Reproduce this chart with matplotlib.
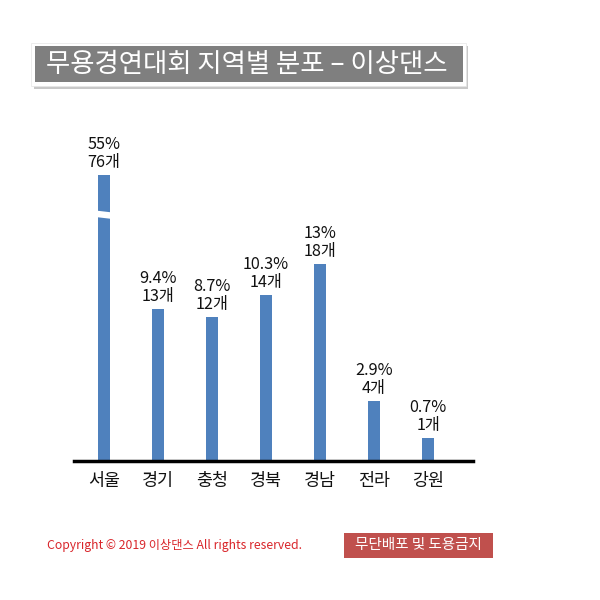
import matplotlib
matplotlib.use("Agg")
import matplotlib.pyplot as plt
from matplotlib.patches import Rectangle, Polygon

plt.rcParams['font.family'] = ['Noto Sans CJK KR', 'DejaVu Sans']

categories = ['서울', '경기', '충청', '경북', '경남', '전라', '강원']
counts = [76, 13, 12, 14, 18, 4, 1]
percents = ['55%', '9.4%', '8.7%', '10.3%', '13%', '2.9%', '0.7%']
# drawn bar lengths (the Seoul bar is broken)
bar_heights = [286, 152, 144, 166, 197, 60, 23]

title = '무용경연대회 지역별 분포 – 이상댄스'
copyright_text = 'Copyright © 2019 이상댄스 All rights reserved.'
notice = '무단배포 및 도용금지'

W = H = 600
fig = plt.figure(figsize=(6, 6), dpi=100)

def fx(px):
    return px / W

def fy(py):
    return 1 - py / H

# main axes: baseline at y=461 px, x 74..473 px
ax_l, ax_r, base_y = 74, 473, 461
ax_top = 461 - 300
ax = fig.add_axes([fx(ax_l), fy(base_y), fx(ax_r - ax_l), (base_y - ax_top) / H])
spacing = 54.0
x0 = -30 / spacing
ax.set_xlim(x0, x0 + (ax_r - ax_l) / spacing)
ax.set_ylim(0, 300)

xs = list(range(len(categories)))
bar_color = '#4f81bd'
ax.bar(xs, bar_heights, width=12 / spacing, color=bar_color, zorder=2)

# break mark on the first bar
bx = xs[0]
hw = 0.16
brk = Polygon([(bx - hw, 461 - 210.5), (bx + hw, 461 - 212.5),
               (bx + hw, 461 - 219), (bx - hw, 461 - 217)],
              closed=True, facecolor='white', edgecolor='none', zorder=3)
ax.add_patch(brk)

for x, h, p, c in zip(xs, bar_heights, percents, counts):
    ax.text(x, h + 4, f'{p}\n{c}개', ha='center', va='bottom', fontsize=11.7,
            color='#111111', linespacing=1.1, zorder=4)

for s in ['top', 'right', 'left']:
    ax.spines[s].set_visible(False)
ax.spines['bottom'].set_linewidth(2.5)
ax.spines['bottom'].set_color('black')
ax.set_yticks([])
ax.set_xticks(xs)
ax.set_xticklabels(categories, fontsize=12.5, color='#111111')
ax.tick_params(axis='x', length=0, pad=8)
ax.patch.set_alpha(0)

# title box with shadow
shadow = Rectangle((fx(34), fy(89)), fx(434), (89 - 46) / H, transform=fig.transFigure,
                   facecolor='#c8c8c8', edgecolor='none', zorder=0)
fig.patches.append(shadow)
outer = Rectangle((fx(31), fy(86)), fx(435), (86 - 43) / H, transform=fig.transFigure,
                  facecolor='white', edgecolor='#e6e6e6', linewidth=0.5, zorder=1)
fig.patches.append(outer)
inner = Rectangle((fx(35), fy(82)), fx(428), (82 - 46) / H, transform=fig.transFigure,
                  facecolor='#7f7f7f', edgecolor='none', zorder=2)
fig.patches.append(inner)
fig.text(fx(247), fy(64.5), title, ha='center', va='center', fontsize=19,
         color='white', zorder=3)

# footer
fig.text(fx(47), fy(546), copyright_text, ha='left', va='center', fontsize=8.8,
         color='#d9262b')
nb = Rectangle((fx(344), fy(558)), fx(149), (558 - 533) / H, transform=fig.transFigure,
               facecolor='#c0504d', edgecolor='none')
fig.patches.append(nb)
fig.text(fx(418.5), fy(545.5), notice, ha='center', va='center', fontsize=10.5,
         color='white', fontweight='medium')

fig.savefig('out.png', dpi=100, facecolor='white')
